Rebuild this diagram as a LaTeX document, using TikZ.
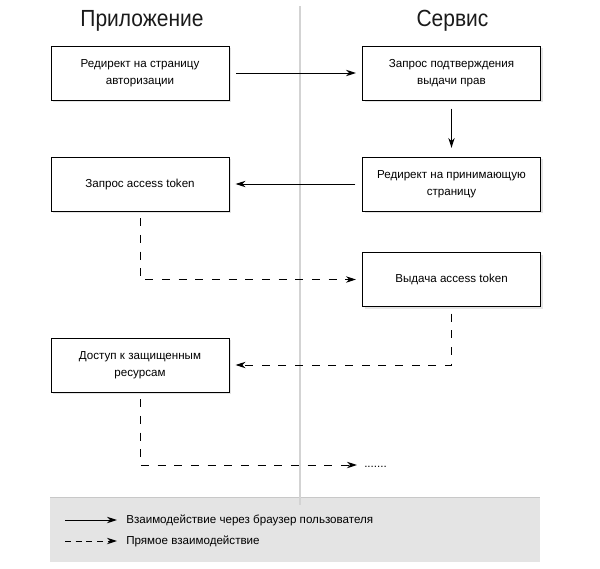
\documentclass[tikz,border=0pt]{standalone}
\usepackage{fontspec}
\setmainfont{Liberation Sans}
\newfontfamily\titlefont[FakeStretch=0.9]{Liberation Sans}
\usetikzlibrary{arrows.meta,shadows}
\definecolor{legendfill}{HTML}{E4E4E4}
\definecolor{legendline}{HTML}{C8C8C8}
\definecolor{divider}{HTML}{D3D3D3}
\definecolor{titlecol}{HTML}{1A1A1A}
\tikzset{
  stepbox/.style={draw=black, line width=0.75pt, fill=white, minimum width=133.5pt,
    minimum height=40.5pt, inner sep=0pt, align=center,
    font=\fontsize{8.7}{12.75}\selectfont,
    drop shadow={shadow xshift=1.5pt, shadow yshift=-1.5pt, fill=black, opacity=0.1}},
  coltitle/.style={anchor=base, font=\titlefont\fontsize{17.5}{20}\selectfont, text=titlecol, inner sep=0pt},
  tip/.style={-{Stealth[length=7.5pt,width=4.8pt,inset=2.4pt]}},
  browserflow/.style={tip, line width=0.75pt, shorten <=5pt, shorten >=4.5pt},
  directflow/.style={tip, line width=0.75pt, dash pattern=on 6pt off 6.5pt, shorten <=5pt, shorten >=4.5pt},
  legendtext/.style={anchor=west, inner sep=0pt, font=\fontsize{8.7}{10}\selectfont}
}
\begin{document}
\begin{tikzpicture}[x=0.75pt, y=-0.75pt]
\useasboundingbox (0,0) rectangle (600,568);
% legend background
\fill[legendfill] (50,497) rectangle (540,562);
\draw[legendline, line width=1pt] (50,497.5) -- (540,497.5);
% divider
\draw[divider, line width=0.8pt] (300,6) -- (300,505);
% titles
\node[coltitle] (tapp) at (142,26) {Приложение};
\node[coltitle] (tsrv) at (452.5,26) {Сервис};
% boxes
\node[stepbox] (b1) at (140,73) {Редирект на страницу\\авторизации};
\node[stepbox] (b2) at (451.5,73) {Запрос подтверждения\\выдачи прав};
\node[stepbox] (b3) at (140,184) {Запрос access token};
\node[stepbox] (b4) at (451.5,184) {Редирект на принимающую\\страницу};
\node[stepbox] (b6) at (451.5,279.5) {Выдача access token};
\node[stepbox] (b5) at (140,365) {Доступ к защищенным\\ресурсам};
% dots
\node[anchor=base west, inner sep=0pt, font=\fontsize{8.7}{10}\selectfont] (dots) at (364,467) {.......};
\coordinate (dotsend) at (357,465);
% connectors
\draw[browserflow] (b1) -- (b2);
\draw[browserflow, shorten <=6pt, shorten >=6.5pt] (b2) -- (b4);
\draw[browserflow] (b4) -- (b3);
\draw[directflow] (b3.south) |- (b6.west);
\draw[directflow] (b6.south) |- (b5.east);
\draw[directflow, shorten >=0pt] (b5.south) |- (dotsend);
% legend
\coordinate (l1a) at (65,520);
\coordinate (l1b) at (117,520);
\coordinate (l2a) at (65,541);
\coordinate (l2b) at (117,541);
\draw[tip, line width=0.75pt] (l1a) -- (l1b);
\draw[tip, line width=0.75pt, dash pattern=on 4.5pt off 3.5pt] (l2a) -- (l2b);
\node[legendtext] (lt1) at (126,520) {Взаимодействие через браузер пользователя};
\node[legendtext] (lt2) at (126,541) {Прямое взаимодействие};
\end{tikzpicture}
\end{document}
